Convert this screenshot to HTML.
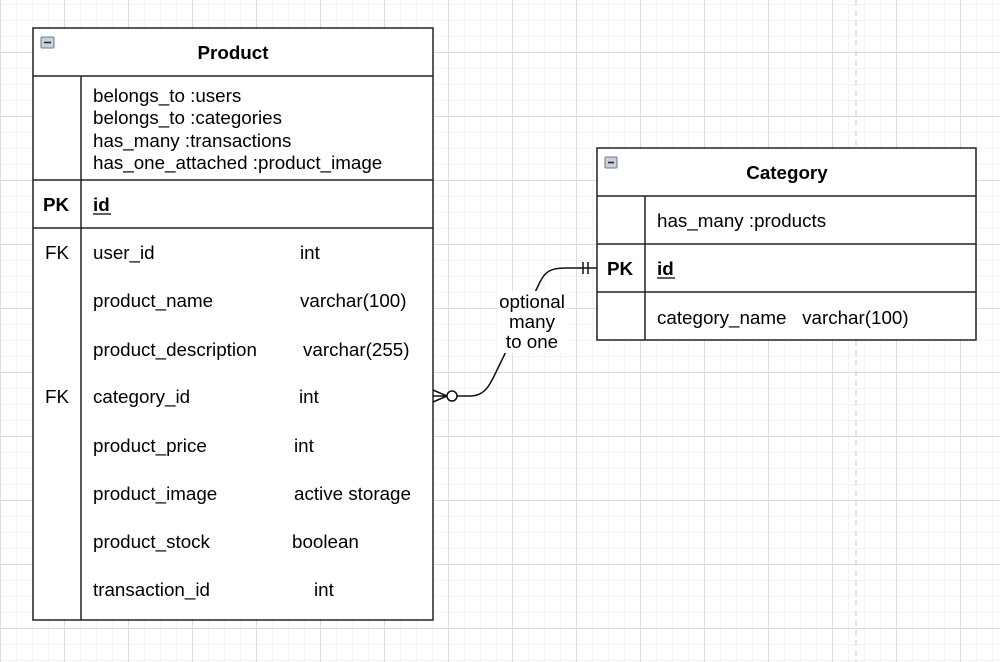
<!DOCTYPE html>
<html><head><meta charset="utf-8"><style>
body{margin:0;width:1000px;height:662px;overflow:hidden;font-family:"Liberation Sans",Arial,sans-serif;
background-color:#fff;
background-image:
linear-gradient(to right,#dcdcdc 1px,transparent 1px),
linear-gradient(to bottom,#dcdcdc 1px,transparent 1px),
linear-gradient(to right,#f4f4f4 1px,transparent 1px),
linear-gradient(to bottom,#f4f4f4 1px,transparent 1px);
background-size:64px 64px,64px 64px,16px 16px,16px 16px;
background-position:0 52px,0 52px,0 4px,0 4px;}
svg{position:absolute;left:0;top:0}
text{font-family:"Liberation Sans",Arial,sans-serif;font-size:18.8px;fill:#000}
.b{font-weight:bold}
</style></head><body>
<svg width="1000" height="662" viewBox="0 0 1000 662">
<line x1="856" y1="0" x2="856" y2="662" stroke="#c8c8c8" stroke-dasharray="6,4" stroke-width="1"/>
<rect x="33" y="28" width="400" height="592" fill="#fff" stroke="#222" stroke-width="1.5"/>
<line x1="33" y1="76" x2="433" y2="76" stroke="#222" stroke-width="1.5"/>
<line x1="33" y1="180" x2="433" y2="180" stroke="#222" stroke-width="1.5"/>
<line x1="33" y1="228" x2="433" y2="228" stroke="#222" stroke-width="1.5"/>
<line x1="81" y1="76" x2="81" y2="620" stroke="#222" stroke-width="1.5"/>
<rect x="41" y="37" width="13" height="11" rx="1" fill="#c8d0dc" stroke="#6a7890"/>
<line x1="44" y1="42.5" x2="51" y2="42.5" stroke="#222" stroke-width="1.5"/>
<text x="233" y="59" text-anchor="middle" class="b" font-size="20">Product</text>
<text x="93" y="102">belongs_to :users</text>
<text x="93" y="124">belongs_to :categories</text>
<text x="93" y="147">has_many :transactions</text>
<text x="93" y="169">has_one_attached :product_image</text>
<text x="43" y="211" class="b">PK</text>
<text x="93" y="211" class="b">id</text>
<line x1="93" y1="214" x2="111" y2="214" stroke="#000" stroke-width="1.3"/>
<text x="45" y="259">FK</text><text x="93" y="259">user_id</text><text x="300" y="259">int</text>
<text x="93" y="307">product_name</text><text x="300" y="307">varchar(100)</text>
<text x="93" y="356">product_description</text><text x="303" y="356">varchar(255)</text>
<text x="45" y="403">FK</text><text x="93" y="403">category_id</text><text x="299" y="403">int</text>
<text x="93" y="452">product_price</text><text x="294" y="452">int</text>
<text x="93" y="500">product_image</text><text x="294" y="500">active storage</text>
<text x="93" y="548">product_stock</text><text x="292" y="548">boolean</text>
<text x="93" y="596">transaction_id</text><text x="314" y="596">int</text>
<rect x="597" y="148" width="379" height="192" fill="#fff" stroke="#222" stroke-width="1.5"/>
<line x1="597" y1="196" x2="976" y2="196" stroke="#222" stroke-width="1.5"/>
<line x1="597" y1="244" x2="976" y2="244" stroke="#222" stroke-width="1.5"/>
<line x1="597" y1="292" x2="976" y2="292" stroke="#222" stroke-width="1.5"/>
<line x1="645" y1="196" x2="645" y2="340" stroke="#222" stroke-width="1.5"/>
<rect x="605" y="157" width="12" height="11" rx="1" fill="#c8d0dc" stroke="#6a7890"/>
<line x1="608" y1="162.5" x2="614" y2="162.5" stroke="#222" stroke-width="1.5"/>
<text x="787" y="179" text-anchor="middle" class="b" font-size="20">Category</text>
<text x="657" y="227">has_many :products</text>
<text x="607" y="275" class="b">PK</text>
<text x="657" y="275" class="b">id</text>
<line x1="657" y1="278" x2="675" y2="278" stroke="#000" stroke-width="1.3"/>
<text x="657" y="324">category_name &#160; varchar(100)</text>
<path d="M457,396 L470,396 C485,396 490,385 497,370 L540,282 C545,272 550,268 565,268 L597,268" fill="none" stroke="#111" stroke-width="1.5"/>
<path d="M433,390 L447,396 L433,402 M433,396 L447,396" fill="none" stroke="#111" stroke-width="1.5"/>
<circle cx="452" cy="396" r="5" fill="#fff" stroke="#111" stroke-width="1.5"/>
<line x1="583" y1="262" x2="583" y2="274" stroke="#111" stroke-width="1.5"/>
<line x1="588" y1="262" x2="588" y2="274" stroke="#111" stroke-width="1.5"/>
<rect x="497" y="291" width="70" height="62" fill="#fff"/>
<text x="532" y="308" text-anchor="middle" font-size="16">optional</text>
<text x="532" y="328" text-anchor="middle" font-size="16">many</text>
<text x="532" y="348" text-anchor="middle" font-size="16">to one</text>
</svg>
</body></html>
